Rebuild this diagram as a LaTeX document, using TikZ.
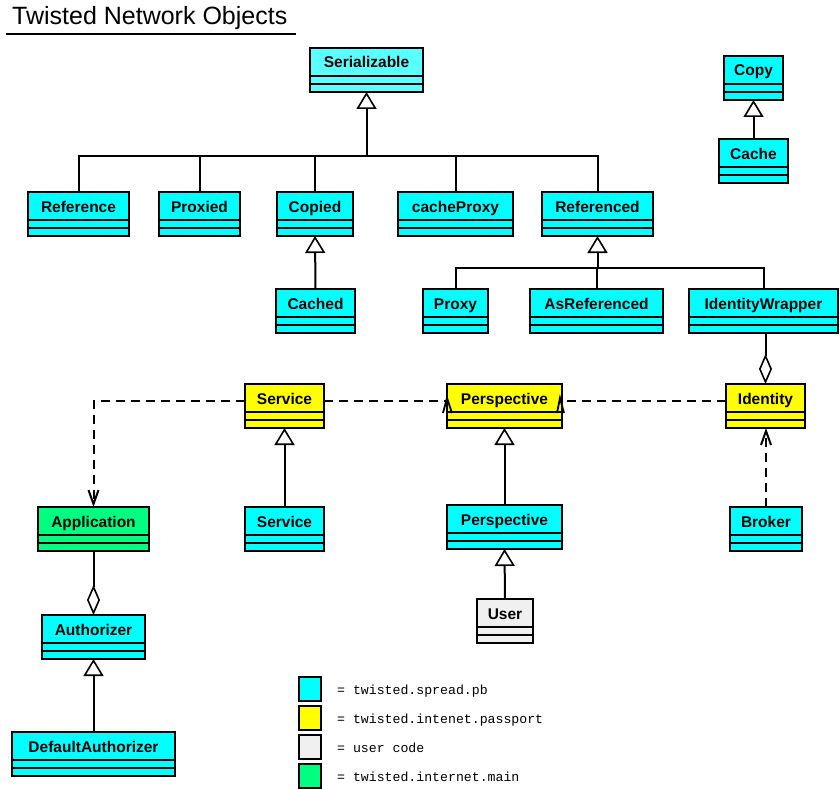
\documentclass[tikz,border=0pt]{standalone}
\usepackage{fontspec}
\setmainfont{Liberation Sans}
\setmonofont{Liberation Mono}
\usetikzlibrary{arrows.meta}
\definecolor{pbcyan}{RGB}{0,255,255}
\definecolor{sercyan}{RGB}{90,255,255}
\definecolor{passyellow}{RGB}{255,255,0}
\definecolor{usergray}{RGB}{240,240,240}
\definecolor{maingreen}{RGB}{0,255,128}
\tikzset{
  clsbox/.style={draw, line width=2.2pt, rectangle, inner sep=0pt, outer sep=0pt, minimum height=44pt},
  clsname/.style={font=\bfseries\fontsize{15.5}{16}\selectfont, anchor=base, inner sep=0pt},
  boxline/.style={line width=2pt},
  conn/.style={line width=2pt},
  gen/.style={conn, -{Triangle[fill=white, length=17pt, width=20pt, line width=1.6pt]}},
  agg/.style={conn, -{Diamond[fill=white, length=30pt, width=13pt, line width=1.6pt]}},
  dep/.style={conn, dash pattern=on 9pt off 6pt},
  deparrow/.style={dep, -{Straight Barb[length=14pt, width=10pt]}},
  vhead/.style={line width=1.8pt},
  legsq/.style={draw, line width=2pt, rectangle, inner sep=0pt, outer sep=0pt, minimum width=22pt, minimum height=24pt},
  legtxt/.style={font=\ttfamily\fontsize{13.2}{14}\selectfont, anchor=base west, inner sep=0pt},
}
% name, center x, top y, width, fill, text
\newcommand\umlcls[6]{%
  \node[clsbox, fill=#5, minimum width=#4pt, anchor=north] (#1) at (#2,#3) {};
  \node[clsname] (#1t) at ([yshift=-20pt]#1.north) {#6};
  \draw[boxline] ([yshift=-28pt]#1.north west) -- ([yshift=-28pt]#1.north east);
  \draw[boxline] ([yshift=-36pt]#1.north west) -- ([yshift=-36pt]#1.north east);
}
\begin{document}
\begin{tikzpicture}[x=1pt, y=-1pt]
\fill[white] (0,0) rectangle (840,789);
\useasboundingbox (0,0) rectangle (840,789);

% title
\node[anchor=base west, inner sep=0pt, font=\fontsize{25}{25}\selectfont] (title) at (12,25) {Twisted Network Objects};
\draw[line width=2pt] (6,34) -- (296,34);

% classes
\umlcls{ser}{366.5}{48}{113}{sercyan}{Serializable}
\umlcls{copy}{753.5}{56}{59}{pbcyan}{Copy}
\umlcls{cache}{753.5}{139}{69}{pbcyan}{Cache}
\umlcls{reference}{78.5}{192}{101}{pbcyan}{Reference}
\umlcls{proxied}{199.5}{192}{81}{pbcyan}{Proxied}
\umlcls{copied}{315}{192}{76}{pbcyan}{Copied}
\umlcls{cacheproxy}{455.5}{192}{115}{pbcyan}{cacheProxy}
\umlcls{referenced}{597.5}{192}{111}{pbcyan}{Referenced}
\umlcls{cached}{315.5}{289}{79}{pbcyan}{Cached}
\umlcls{proxy}{455.5}{289}{65}{pbcyan}{Proxy}
\umlcls{asref}{596.5}{289}{133}{pbcyan}{AsReferenced}
\umlcls{idwrap}{763.5}{289}{149}{pbcyan}{IdentityWrapper}
\umlcls{servicey}{284.5}{384}{79}{passyellow}{Service}
\umlcls{perspy}{504.5}{384}{115}{passyellow}{Perspective}
\umlcls{identity}{765.5}{384}{79}{passyellow}{Identity}
\umlcls{application}{93.5}{507}{111}{maingreen}{Application}
\umlcls{servicec}{284.5}{507}{79}{pbcyan}{Service}
\umlcls{perspc}{504.5}{505}{115}{pbcyan}{Perspective}
\umlcls{broker}{766}{507}{72}{pbcyan}{Broker}
\umlcls{authorizer}{93.5}{615}{103}{pbcyan}{Authorizer}
\umlcls{user}{505}{599}{56}{usergray}{User}
\umlcls{defauth}{93.5}{732}{163}{pbcyan}{DefaultAuthorizer}

% Serializable hierarchy
\coordinate (serbar) at (ser.south |- 0,156);
\draw[gen] (serbar) -- (ser.south);
\draw[conn] (reference.north) |- (serbar);
\draw[conn] (proxied.north) |- (serbar);
\draw[conn] (copied.north) |- (serbar);
\draw[conn] (cacheproxy.north) |- (serbar);
\draw[conn] (referenced.north) |- (serbar);

% Referenced hierarchy
\coordinate (refbar) at (referenced.south |- 0,268);
\draw[gen] (refbar) -- (referenced.south);
\draw[conn] (proxy.north) |- (refbar);
\draw[conn] (asref.north) |- (refbar);
\draw[conn] (idwrap.north) |- (refbar);

% simple generalizations
\draw[gen] (cache.north) -- (copy.south);
\draw[gen] (cached.north) -- (copied.south);
\draw[gen] (servicec.north) -- (servicey.south);
\draw[gen] (perspc.north) -- (perspy.south);
\draw[gen] (user.north) -- (perspc.south);
\draw[gen] (defauth.north) -- (authorizer.south);

% aggregations
\draw[agg] (application.south) -- (authorizer.north);
\draw[agg] (idwrap.south -| identity.north) -- (identity.north);

% dependencies
\coordinate (depy) at ([yshift=-17pt]servicey.north west);
\draw[deparrow] (depy) -| (application.north);
\draw[dep] ([yshift=-17pt]servicey.north east) -- ([yshift=-17pt]perspy.north west);
\draw[dep] ([yshift=-17pt]identity.north west) -- ([yshift=-17pt]perspy.north east);
\draw[deparrow] (broker.north) -- (broker.north |- identity.south);
\draw[vhead] ([xshift=-4pt,yshift=-29pt]perspy.north west) -- ([yshift=-14pt]perspy.north west) -- ([xshift=5pt,yshift=-29pt]perspy.north west);
\draw[vhead] ([xshift=-5pt,yshift=-29pt]perspy.north east) -- ([xshift=-2pt,yshift=-14pt]perspy.north east) -- ([xshift=2pt,yshift=-29pt]perspy.north east);

% legend
\node[legsq, fill=pbcyan] (legpb) at (309.5,689) {};
\node[legsq, fill=passyellow] (legpass) at (309.5,718) {};
\node[legsq, fill=usergray] (leguser) at (309.5,747) {};
\node[legsq, fill=maingreen] (legmain) at (309.5,776) {};
\node[legtxt] (legpbt) at (337,694) {= twisted.spread.pb};
\node[legtxt] (legpasst) at (337,723) {= twisted.intenet.passport};
\node[legtxt] (legusert) at (337,752) {= user code};
\node[legtxt] (legmaint) at (337,781) {= twisted.internet.main};
\end{tikzpicture}
\end{document}
